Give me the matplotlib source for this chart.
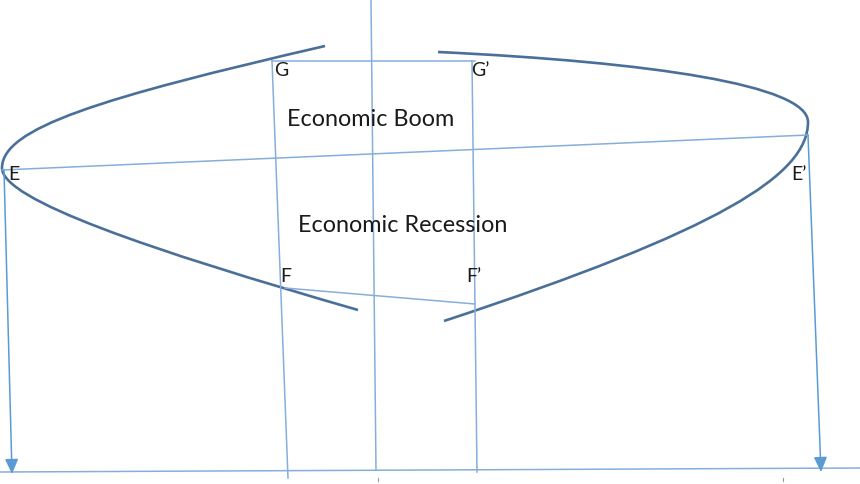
import matplotlib.pyplot as plt
from matplotlib.path import Path
from matplotlib.patches import PathPatch

plt.rcParams['font.family'] = ['Lato', 'DejaVu Sans']

# diagram points, in picture pixels (x right, y down)
left_curve = [(325, 46), (100, 98), (2, 128), (2, 168),
              (2, 200), (150, 250), (358, 310)]
right_curve = [(438, 52), (650, 62), (808, 85), (808, 122),
               (808, 175), (720, 230), (444, 321)]

guide_lines = {
    'center': [(371, 0), (376, 470)],
    'G_G2': [(272, 61), (475, 61)],
    'G_down': [(272, 61), (288, 478)],
    'G2_down': [(472, 61), (477, 472)],
    'E_E2': [(2, 170), (808, 135)],
    'F_F2': [(285, 288), (475, 304)],
    'base': [(0, 472), (860, 468)],
}
arrows = [[(4, 170), (12, 474)], [(808, 135), (821, 472)]]

point_labels = ['G', 'G\u2019', 'E', 'E\u2019', 'F', 'F\u2019']
label_pos = [(274, 71), (471, 71), (8, 174), (791, 174), (280, 277), (466, 277)]
captions = ['Economic Boom', 'Economic Recession']
caption_pos = [(371, 120), (403, 225)]

curve_color = '#4a6f99'
line_color = '#86aedb'
arrow_color = '#5b9bd5'

fig = plt.figure(figsize=(8.6, 4.84), dpi=100)
ax = fig.add_axes([0, 0, 1, 1])
ax.set_xlim(0, 860)
ax.set_ylim(484, 0)
ax.axis('off')

for pts in guide_lines.values():
    xs, ys = zip(*pts)
    ax.plot(xs, ys, color=line_color, lw=1.1)

for (x0, y0), (x1, y1) in arrows:
    ax.annotate('', xy=(x1, y1), xytext=(x0, y0),
                arrowprops=dict(arrowstyle='-|>,head_length=0.9,head_width=0.4',
                                color=arrow_color, lw=1.1, shrinkA=0, shrinkB=0))

codes = [Path.MOVETO] + [Path.CURVE4] * 6
for pts in (left_curve, right_curve):
    ax.add_patch(PathPatch(Path(pts, codes), facecolor='none',
                           edgecolor=curve_color, lw=1.9))

# small marks under the base line
ax.plot([378, 378], [478, 481], color='#999999', lw=0.8)
ax.plot([783, 783], [478, 481], color='#999999', lw=0.8)

for lab, (x, y) in zip(point_labels, label_pos):
    ax.text(x, y, lab, fontsize=14, color='#1a1a1a', va='center', ha='left')

for cap, (x, y) in zip(captions, caption_pos):
    ax.text(x, y, cap, fontsize=16.8, color='#1a1a1a', va='center', ha='center')

fig.savefig('out.png', dpi=100, facecolor='white')
